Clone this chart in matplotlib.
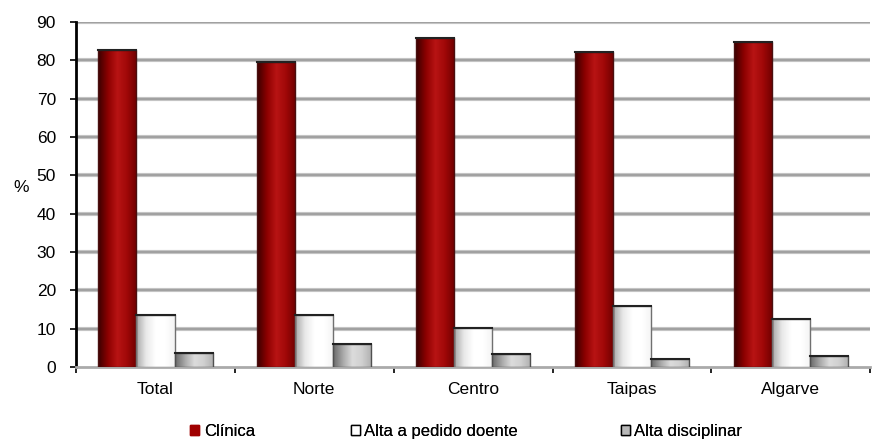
import numpy as np
import matplotlib.pyplot as plt
from matplotlib.colors import LinearSegmentedColormap
from matplotlib.patches import Patch

plt.rcParams['font.family'] = ['Liberation Sans', 'DejaVu Sans']

regioes = ['Total', 'Norte', 'Centro', 'Taipas', 'Algarve']
clinica = [82.7, 79.6, 85.9, 82.3, 84.7]
pedido = [13.5, 13.5, 10.3, 15.9, 12.4]
disciplinar = [3.7, 5.9, 3.4, 2.1, 3.0]
series = ['Clínica', 'Alta a pedido doente', 'Alta disciplinar']

# gradient colour maps for the "cylinder" look
cm_red = LinearSegmentedColormap.from_list('r', ['#3a0000', '#8c0000', '#b81414', '#a00808', '#700000'])
cm_white = LinearSegmentedColormap.from_list('w', ['#a8a8a8', '#e8e8e8', '#ffffff', '#ffffff', '#f4f4f4'])
cm_grey = LinearSegmentedColormap.from_list('g', ['#6a6a6a', '#a8a8a8', '#dcdcdc', '#d0d0d0', '#b0b0b0'])

fig = plt.figure(figsize=(8.81, 4.41), dpi=100)
ax = fig.add_axes([0.0863, 0.1678, 0.9015, 0.7823])

x = np.arange(len(regioes))
w = 0.24
grad = np.linspace(0, 1, 64).reshape(1, -1)

def gradbars(pos, vals, cmap, edge):
    bars = ax.bar(pos, vals, w, color='none', edgecolor=edge, linewidth=1.0, zorder=4)
    for b in bars:
        x0, bw, h = b.get_x(), b.get_width(), b.get_height()
        ax.imshow(grad, cmap=cmap, aspect='auto', extent=[x0, x0 + bw, 0, h], zorder=3)
        ax.plot([x0, x0 + bw], [h, h], color='#222222', lw=1.5, zorder=5)
    return bars

gradbars(x - w, clinica, cm_red, '#4a1010')
gradbars(x, pedido, cm_white, '#707070')
gradbars(x + w, disciplinar, cm_grey, '#505050')

ax.set_xlim(-0.5, len(regioes) - 0.5)
ax.set_ylim(0, 90)
ax.set_yticks(np.arange(0, 91, 10))
ax.set_xticks(x)
ax.set_xticklabels(regioes, fontsize=12.5)
ax.set_xticks(np.arange(-0.5, len(regioes), 1), minor=True)
ax.tick_params(axis='x', which='major', length=0, pad=11)
ax.tick_params(axis='x', which='minor', length=4.5, width=1.2, color='black')
ax.tick_params(axis='y', length=4.5, width=1.2, labelsize=12.5, pad=10)

for yv in np.arange(10, 91, 10):
    ax.axhline(yv, color='#c4c4c4', lw=3, zorder=1)
    ax.axhline(yv, color='#9a9a9a', lw=1.2, zorder=1)

for s in ['top', 'right']:
    ax.spines[s].set_visible(False)
ax.spines['left'].set_linewidth(2)
ax.spines['bottom'].set_color('#aaaaaa')
ax.spines['bottom'].set_linewidth(2)

fig.text(0.024, 0.574, '%', fontsize=12.5, ha='center', va='center')

# legend entries placed one by one, spaced like the original
handles = [Patch(facecolor='#a00000', edgecolor='#a00000'),
           Patch(facecolor='white', edgecolor='black'),
           Patch(facecolor='#b8b8b8', edgecolor='black')]
leg_x = [0.216, 0.398, 0.705]
for h, lab, lx in zip(handles, series, leg_x):
    leg = fig.legend([h], [lab], loc='center left', bbox_to_anchor=(lx, 0.022),
                     frameon=False, fontsize=12, handlelength=0.55, handleheight=0.55,
                     handletextpad=0.25, borderpad=0, borderaxespad=0)
    fig.add_artist(leg)

fig.savefig('out.png', dpi=100)
